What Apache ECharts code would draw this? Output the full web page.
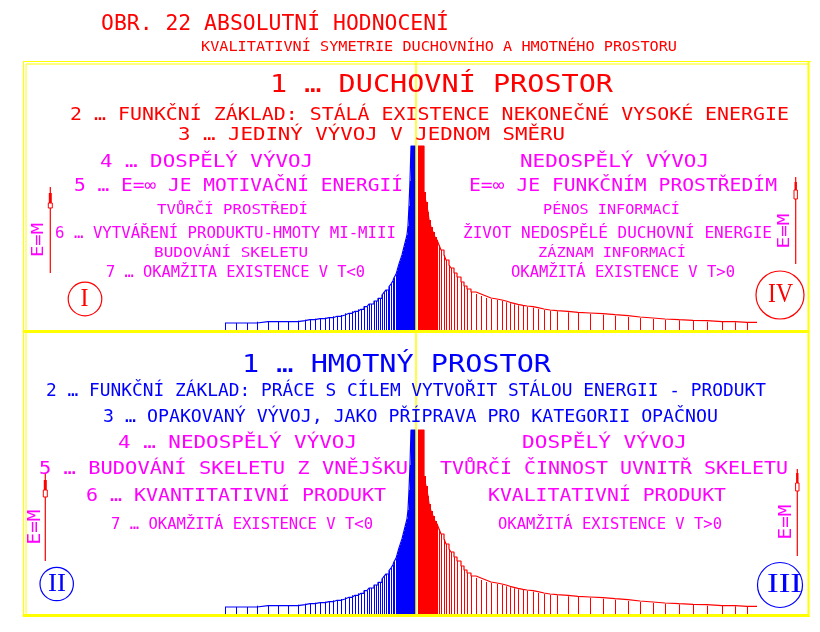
<!DOCTYPE html>
<html><head><meta charset="utf-8">
<script src="https://cdn.jsdelivr.net/npm/echarts@6/dist/echarts.min.js"></script>
<style>html,body{margin:0;padding:0;background:#fff;}#chart{width:820px;height:632px;}</style>
</head><body><div id="chart"></div>
<script>
// ---- data (x = distance from centre axis, h = height of the step) ----
const blueX = [-191,-180,-169,-159,-148,-138,-128,-118,-111,-106,-101,-96,-91,-87,-83,-79,-75,-71,-67,-64,-61,-58,-55,-52,-49,-47,-45,-42,-40,-38,-36,-34,-32,-30,-28,-27,-25,-23,-22,-20,-19,-18,-17,-16,-15,-14,-13,-12,-11,-10,-9,-8,-7,-6,-5,-4,-3,-2,-1];
const blueH = [8,8,8,9.3,9.3,9.3,9.3,10.3,11.3,11.3,12.3,12.3,13.3,13.3,14.7,14.7,16,17.7,17.7,19.7,19.7,21.7,21.7,24.3,24.3,27,27,30,30,32.7,32.7,36,38.7,41,41,44.3,47,50.3,53.3,56.7,60,63.7,67,70,73,76,80,84,88,92,96,105,125,150,185,185,185,185,185];
const blueEnd = 0;
const redX = [2,3,4,5,6,7,8,9,10,11,12,13,14,15,16,17,18,19,20,21,23,25,28,30,33,35,38,41,45,48,51,55,60,65,70,75,81,86,90,94,98,102,107,111,117,122,128,134,141,152,162,174,187,199,212,224,237,249,263,277,291,306,319,331];
const redH = [185,185,185,185,185,185,139,139,129,129,119,111,111,104,104,99,99,94,94,91,86,81,76,71,66,63,58,54,49,45,42,39,37,35,33,32,31,30,28.7,27.7,26.7,25.7,25,24.3,23.3,22,21,20.3,19.7,18.7,18,17.3,16.3,15.3,14,13,12,11.3,10.7,10.3,9.3,9.3,8.7,8.7];
const redEnd = 341;

// ---- texts ----
const titleTexts = ["OBR. 22 ABSOLUTNÍ HODNOCENÍ", "KVALITATIVNÍ SYMETRIE DUCHOVNÍHO A HMOTNÉHO PROSTORU"];
const upperHead = ["1 … DUCHOVNÍ PROSTOR", "2 … FUNKČNÍ ZÁKLAD: STÁLÁ EXISTENCE NEKONEČNÉ VYSOKÉ ENERGIE", "3 … JEDINÝ VÝVOJ V JEDNOM SMĚRU"];
const upperLeft = ["4 … DOSPĚLÝ VÝVOJ", "5 … E=∞ JE MOTIVAČNÍ ENERGIÍ", "TVŮRČÍ PROSTŘEDÍ", "6 … VYTVÁŘENÍ PRODUKTU-HMOTY MI-MIII", "BUDOVÁNÍ SKELETU", "7 … OKAMŽITA EXISTENCE V T<0"];
const upperRight = ["NEDOSPĚLÝ VÝVOJ", "E=∞ JE FUNKČNÍM PROSTŘEDÍM", "PÉNOS INFORMACÍ", "ŽIVOT NEDOSPĚLÉ DUCHOVNÍ ENERGIE", "ZÁZNAM INFORMACÍ", "OKAMŽITÁ EXISTENCE V T>0"];
const lowerHead = ["1 … HMOTNÝ PROSTOR", "2 … FUNKČNÍ ZÁKLAD: PRÁCE S CÍLEM VYTVOŘIT STÁLOU ENERGII - PRODUKT", "3 … OPAKOVANÝ VÝVOJ, JAKO PŘÍPRAVA PRO KATEGORII OPAČNOU"];
const lowerLeft = ["4 … NEDOSPĚLÝ VÝVOJ", "5 … BUDOVÁNÍ SKELETU Z VNĚJŠKU", "6 … KVANTITATIVNÍ PRODUKT", "7 … OKAMŽITÁ EXISTENCE V T<0"];
const lowerRight = ["DOSPĚLÝ VÝVOJ", "TVŮRČÍ ČINNOST UVNITŘ SKELETU", "KVALITATIVNÍ PRODUKT", "OKAMŽITÁ EXISTENCE V T>0"];
const axisText = "E=M";
const quadrants = ["I", "IV", "II", "III"];

// ---- layout (left x, right x, centre y, cap height) ----
const L_title = [[101,449,24.5,15],[201,677,47,10]];
const L_upperHead = [[270,613,86,18],[70,789,115,13],[178,565,136,12.5]];
const L_upperLeft = [[100,313,163,12.5],[74,403,186,13],[157,308,210,10.5],[55,396,234,11],[154,308,253,10.5],[106,365,273,11]];
const L_upperRight = [[520,709,163,12.5],[469,777,186,13],[543,680,210,10.5],[463,772,234,11],[538,686,253,10.5],[511,735,273,11]];
const L_lowerHead = [[242,551,366,18],[46,766,392,12.5],[103,718,418,12.5]];
const L_lowerLeft = [[118,357,443,13],[39,408,469,13],[86,386,496,13],[111,373,525,11]];
const L_lowerRight = [[522,687,443,13],[440,788,469,13],[488,726,496,13],[498,722,525,11]];

const RED='#ff0000', BLUE='#0000ff', MAG='#ff00ff', YEL='#ffff00';
const MONO='"DejaVu Sans Mono", monospace';
const SERIF='"Liberation Serif", serif';
const mctx=document.createElement('canvas').getContext('2d');
function measure(str, fs, fam){ mctx.font = fs+'px '+fam; return mctx.measureText(str).width; }
function txt(str, box, color, fam, capRatio){
  fam = fam || MONO; capRatio = capRatio || 0.729;
  const [x1,x2,yc,cap]=box;
  const fs = cap/capRatio;
  const s = (x2-x1)/measure(str, fs, fam);
  return {type:'text', x:x1, y:yc, scaleX:s, z:100, silent:true,
    style:{text:str, fill:color, fontSize:fs, fontFamily:fam, textAlign:'left', textVerticalAlign:'middle'}};
}
function vtxt(str, cx, cy, len, cap, color){
  const fs = cap/0.729;
  const s = len/measure(str, fs, MONO);
  return {type:'text', x:cx, y:cy, rotation:Math.PI/2, scaleX:s, z:100, silent:true,
    style:{text:str, fill:color, fontSize:fs, fontFamily:MONO, textAlign:'center', textVerticalAlign:'middle'}};
}
function arrow(x, yTop, yBot, f1, f2, b2, hw){
  return [
    {type:'line', silent:true, z:90, shape:{x1:x,y1:yTop,x2:x,y2:yBot}, style:{stroke:RED,lineWidth:1.2}},
    {type:'rect', silent:true, z:90, shape:{x:x-hw,y:f1,width:hw*2,height:f2-f1}, style:{fill:RED}},
    {type:'rect', silent:true, z:90, shape:{x:x-hw-0.5,y:f2,width:hw*2+1,height:b2-f2}, style:{fill:'#fff',stroke:RED,lineWidth:1}}
  ];
}
function circ(cx, cy, r, color){
  return {type:'circle', silent:true, z:90, shape:{cx:cx,cy:cy,r:r}, style:{fill:null, stroke:color, lineWidth:1.2}};
}
function hline(x1,x2,y,w){ return {type:'line', silent:true, z:95, shape:{x1:x1,y1:y,x2:x2,y2:y}, style:{stroke:YEL,lineWidth:w}}; }
function vline(x,y1,y2,w){ return {type:'line', silent:true, z:95, shape:{x1:x,y1:y1,x2:x,y2:y2}, style:{stroke:YEL,lineWidth:w}}; }

const els = [];
titleTexts.forEach((t,i)=>els.push(txt(t, L_title[i], RED)));
upperHead.forEach((t,i)=>els.push(txt(t, L_upperHead[i], RED)));
upperLeft.forEach((t,i)=>els.push(txt(t, L_upperLeft[i], MAG)));
upperRight.forEach((t,i)=>els.push(txt(t, L_upperRight[i], MAG)));
lowerHead.forEach((t,i)=>els.push(txt(t, L_lowerHead[i], BLUE)));
lowerLeft.forEach((t,i)=>els.push(txt(t, L_lowerLeft[i], MAG)));
lowerRight.forEach((t,i)=>els.push(txt(t, L_lowerRight[i], MAG)));
// frame
els.push(hline(23,811,61.5,1), hline(26,809,64,1), vline(23.5,61,617,1), vline(26,64,614,1), vline(808.5,61,617,2), hline(23,810,616.5,1));
// E=M arrows
els.push(...arrow(50.3,187,273,193,203,208,1.5), vtxt(axisText,39,240,34,12,MAG));
els.push(...arrow(795.7,177,264,182,190,199,1.2), vtxt(axisText,785,231,35,12,MAG));
els.push(...arrow(45.3,473,561,480,490,497,1.5), vtxt(axisText,35.5,527,35,13,MAG));
els.push(...arrow(797.3,469,556,473,483,491,1.2), vtxt(axisText,786.5,522,35,13,MAG));
// quadrant circles
els.push(circ(85,299,16.8,RED), txt(quadrants[0],[80.5,88.5,299.5,17],RED,SERIF,0.66));
els.push(circ(780,295,24,RED), txt(quadrants[1],[768,793,295,18],RED,SERIF,0.66));
els.push(circ(56.7,584,16.7,BLUE), txt(quadrants[2],[48,66,584,17],BLUE,SERIF,0.66));
els.push(circ(780,585,22.5,BLUE), txt(quadrants[3],[767,802,585,18],BLUE,SERIF,0.66));

function vl(color){
  return function(p, api){
    const a = api.coord([api.value(0),0]);
    const b = api.coord([api.value(0),api.value(1)]);
    const x = Math.round(a[0])+0.5;
    return {type:'line', shape:{x1:x,y1:a[1],x2:x,y2:b[1]}, style:{stroke:color,lineWidth:1}};
  };
}
const bluePts = blueX.map((x,i)=>[x,blueH[i]]);
const redPts = redX.map((x,i)=>[x,redH[i]]);
function panel(g){
  return [
    {type:'custom', xAxisIndex:g, yAxisIndex:g, renderItem:vl(BLUE), encode:{x:0,y:1}, data:bluePts, z:2, silent:true},
    {type:'line', xAxisIndex:g, yAxisIndex:g, step:'end', showSymbol:false, symbol:'none', silent:true,
      lineStyle:{color:BLUE,width:1.2}, data:bluePts.concat([[blueEnd, blueH[blueH.length-1]]]), z:3},
    {type:'custom', xAxisIndex:g, yAxisIndex:g, renderItem:vl(RED), encode:{x:0,y:1}, data:redPts, z:2, silent:true},
    {type:'line', xAxisIndex:g, yAxisIndex:g, step:'end', showSymbol:false, symbol:'none', silent:true,
      lineStyle:{color:RED,width:1.2}, data:redPts.concat([[redEnd, redH[redH.length-1]]]), z:3,
      markLine:{silent:true, symbol:'none', label:{show:false}, lineStyle:{color:YEL,width:1.5,type:'solid'}, data:[{xAxis:0}], z:10}}
  ];
}
function xa(g){
  return {gridIndex:g, type:'value', min:-392, max:392, position:'bottom',
    axisLine:{show:true, onZero:false, lineStyle:{color:YEL,width:3}}, axisTick:{show:false}, axisLabel:{show:false}, splitLine:{show:false}, z:5};
}
const chart = echarts.init(document.getElementById('chart'));
chart.setOption({
  animation:false,
  backgroundColor:'#ffffff',
  grid:[{left:24,right:12,top:62,height:269},{left:24,right:12,top:331,height:284}],
  xAxis:[xa(0), xa(1)],
  yAxis:[{gridIndex:0,type:'value',min:0,max:269,show:false},{gridIndex:1,type:'value',min:0,max:284,show:false}],
  series: panel(0).concat(panel(1)),
  graphic:{elements:els}
});
</script></body></html>
